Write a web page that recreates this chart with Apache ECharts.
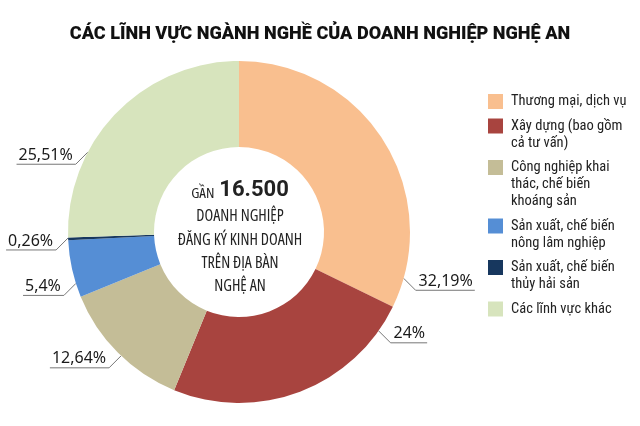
<!DOCTYPE html>
<html><head><meta charset="utf-8">
<script src="https://cdn.jsdelivr.net/npm/echarts@6/dist/echarts.min.js"></script>
<style>html,body{margin:0;padding:0;background:#fff}#c{width:640px;height:426px}</style>
</head><body><div id="c"></div>
<script>
// ---- data ----
const titleText = 'CÁC LĨNH VỰC NGÀNH NGHỀ CỦA DOANH NGHIỆP NGHỆ AN';
const categories = [
  'Thương mại, dịch vụ',
  'Xây dựng (bao gồm cả tư vấn)',
  'Công nghiệp khai thác, chế biến khoáng sản',
  'Sản xuất, chế biến nông lâm nghiệp',
  'Sản xuất, chế biến thủy hải sản',
  'Các lĩnh vực khác'
];
const legendLines = [
  ['Thương mại, dịch vụ'],
  ['Xây dựng (bao gồm', 'cả tư vấn)'],
  ['Công nghiệp khai', 'thác, chế biến', 'khoáng sản'],
  ['Sản xuất, chế biến', 'nông lâm nghiệp'],
  ['Sản xuất, chế biến', 'thủy hải sản'],
  ['Các lĩnh vực khác']
];
const values = [32.19, 24, 12.64, 5.4, 0.26, 25.51];
const valueLabels = ['32,19%', '24%', '12,64%', '5,4%', '0,26%', '25,51%'];
const centerSmall = 'GẦN';
const centerBig = '16.500';
const centerLines = ['DOANH NGHIỆP', 'ĐĂNG KÝ KINH DOANH', 'TRÊN ĐỊA BÀN', 'NGHỆ AN'];

// ---- style ----
const colors = ['#F9BF8F', '#A8443F', '#C4BD97', '#558ED5', '#17375E', '#D7E4BD'];
const labelAngles = [-15.7, -35.3, 226.4, 197.5, 182, 152.2];
const COND = 'condensed';
const FAM = 'Roboto, "DejaVu Sans Condensed", sans-serif';
const FAM2 = '"Open Sans", Roboto, sans-serif';
const CX = 239, CY = 232, R0 = 85, R1 = 171;
const LH = 17, GAP = 7.5, LEG_TOP = 93, LEG_LEFT = 488;
const TITLE_WIDTH = 500;

// fit title font size to the target width
const mctx = document.createElement('canvas').getContext('2d');
mctx.font = '900 20px Roboto';
const titleSize = Math.round(200 * TITLE_WIDTH / mctx.measureText(titleText).width) / 10;

const legends = [];
let legTop = LEG_TOP;
categories.forEach((name, i) => {
  const n = legendLines[i].length;
  const h = n * LH;
  legends.push({
    data: [name],
    left: LEG_LEFT,
    top: legTop,
    padding: 0,
    itemGap: 0,
    itemWidth: 15,
    itemHeight: h,
    icon: 'path://M0,0M0,1h15v15h-15zM0,' + h,
    symbolKeepAspect: false,
    selectedMode: false,
    formatter: () => legendLines[i].join('\n'),
    textStyle: { fontFamily: FAM, fontStyle: COND, fontSize: 14.5, lineHeight: LH, color: '#222', padding: [0, 0, 0, 3] }
  });
  legTop += h + GAP;
});

const chart = echarts.init(document.getElementById('c'));
chart.setOption({
  animation: false,
  backgroundColor: '#fff',
  color: colors,
  title: [
    {
      text: titleText,
      left: 'center',
      top: 25,
      padding: 0,
      textStyle: { fontFamily: FAM, fontWeight: 900, fontSize: titleSize, color: '#111' }
    },
    {
      text: '{a|' + centerSmall + '} {b|' + centerBig + '}\n' + centerLines.map(s => '{c|' + s + '}').join('\n'),
      left: CX + 1,
      top: 175,
      padding: 0,
      textAlign: 'center',
      textStyle: {
        fontWeight: 'normal',
        rich: {
          a: { fontFamily: FAM2, fontStyle: COND, fontWeight: 'normal', fontSize: 15, lineHeight: 30, color: '#222', padding: [7, 0, 0, 0] },
          b: { fontFamily: FAM, fontWeight: 'bold', fontSize: 22, lineHeight: 30, color: '#222' },
          c: { fontFamily: FAM2, fontStyle: COND, fontWeight: 'normal', fontSize: 16, lineHeight: 23.4, color: '#222', align: 'center' }
        }
      }
    }
  ],
  legend: legends,
  series: [{
    type: 'pie',
    center: [CX, CY],
    radius: [R0, R1],
    startAngle: 90,
    clockwise: true,
    avoidLabelOverlap: false,
    itemStyle: { borderWidth: 0 },
    emphasis: { disabled: true },
    label: {
      show: true,
      position: 'outside',
      formatter: p => valueLabels[p.dataIndex],
      fontFamily: '"Noto Sans", sans-serif',
      fontSize: 16,
      color: '#1a1a1a'
    },
    labelLine: { show: true, smooth: false, lineStyle: { color: '#777', width: 1 } },
    labelLayout: function (p) {
      const i = p.dataIndex;
      const a = labelAngles[i] * Math.PI / 180;
      const x0 = CX + R1 * Math.cos(a), y0 = CY - R1 * Math.sin(a);
      const right = Math.cos(a) > 0;
      const s = right ? 1 : -1;
      const x1 = x0 + s * 12, y1 = y0 + 12;
      const w = p.labelRect.width;
      const x2 = x1 + s * (w + 5);
      return {
        x: x1 + s * 3,
        y: y1 - 1,
        align: right ? 'left' : 'right',
        verticalAlign: 'bottom',
        labelLinePoints: [[x0, y0], [x1, y1], [x2, y1]]
      };
    },
    data: categories.map((name, i) => ({ name: name, value: values[i] }))
  }]
});
</script>
</body></html>
